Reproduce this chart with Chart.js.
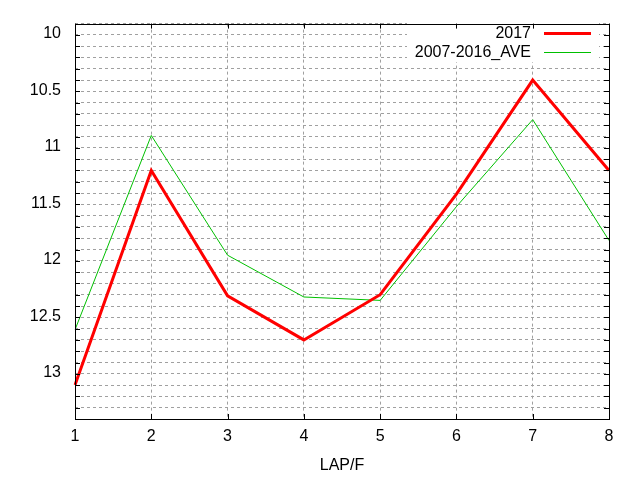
<!DOCTYPE html>
<html>
<head>
<meta charset="utf-8">
<script src="https://cdn.jsdelivr.net/npm/chart.js@4"></script>
<style>
html,body{margin:0;padding:0;background:#fff;}
#wrap{width:640px;height:480px;}
</style>
</head>
<body>
<div id="wrap"><canvas id="c" width="640" height="480"></canvas></div>
<script>
const categories = ['1','2','3','4','5','6','7','8'];
const series2017 = [13.1, 11.2, 12.31, 12.7, 12.3, 11.41, 10.4, 11.2];
const seriesAve = [12.61, 10.89, 11.95, 12.32, 12.35, 11.52, 10.75, 11.82];
const seriesLabels = ['2017', '2007-2016_AVE'];
const yMin = 9.9, yMax = 13.4, yStep = 0.1;
const xTitle = 'LAP/F';

const FONT = 'Liberation Sans, Arial, sans-serif';
const FS = 16;

const framePlugin = {
  id: 'frame',
  beforeDatasetsDraw(chart) {
    const ctx = chart.ctx;
    ctx.save();
    ctx.fillStyle = '#fff';
    ctx.fillRect(407, 21, 192, 41);
    ctx.restore();
  },
  afterDraw(chart) {
    const ctx = chart.ctx;
    const a = chart.chartArea;
    const ys = chart.scales.y, xs = chart.scales.x;
    ctx.save();
    ctx.strokeStyle = '#000';
    ctx.lineWidth = 1;
    ctx.setLineDash([]);
    ctx.beginPath();
    ys.ticks.forEach(t => {
      const y = Math.round(ys.getPixelForValue(t.value)) + 0.5;
      ctx.moveTo(a.left, y); ctx.lineTo(a.left + 5, y);
      ctx.moveTo(a.right, y); ctx.lineTo(a.right - 5, y);
    });
    xs.ticks.forEach((t, i) => {
      const x = Math.round(xs.getPixelForTick(i)) + 0.5;
      ctx.moveTo(x, a.bottom); ctx.lineTo(x, a.bottom - 5);
      ctx.moveTo(x, a.top); ctx.lineTo(x, a.top + 5);
    });
    ctx.stroke();
    ctx.strokeRect(Math.round(a.left) + 0.5, Math.round(a.top) + 0.5,
                   Math.round(a.right - a.left), Math.round(a.bottom - a.top));
    // legend
    ctx.font = FS + 'px ' + FONT;
    ctx.fillStyle = '#000';
    ctx.textAlign = 'right';
    ctx.textBaseline = 'middle';
    const rows = [33, 52];
    chart.data.datasets.forEach((ds, i) => {
      const y = rows[i];
      ctx.fillText(ds.label, 531, y + 1);
      ctx.strokeStyle = ds.borderColor;
      ctx.lineWidth = ds.borderWidth;
      ctx.beginPath();
      ctx.moveTo(544, y + 0.5); ctx.lineTo(591, y + 0.5);
      ctx.stroke();
    });
    ctx.restore();
  }
};

new Chart(document.getElementById('c'), {
  type: 'line',
  data: {
    labels: categories,
    datasets: [
      { label: seriesLabels[0], data: series2017, borderColor: '#ff0000', borderWidth: 3,
        pointRadius: 0, tension: 0, fill: false },
      { label: seriesLabels[1], data: seriesAve, borderColor: '#00c000', borderWidth: 1,
        pointRadius: 0, tension: 0, fill: false }
    ]
  },
  options: {
    responsive: false,
    animation: false,
    devicePixelRatio: 1,
    layout: { padding: { left: 0, top: 20, right: 31, bottom: 0 } },
    plugins: { legend: { display: false }, tooltip: { enabled: false } },
    scales: {
      x: {
        type: 'category',
        offset: false,
        afterFit(s) { s.height = 61; },
        grid: { color: '#a0a0a0', drawTicks: false, lineWidth: 1 },
        border: { display: false, dash: [3, 3] },
        ticks: { color: '#000', font: { family: FONT, size: FS }, padding: 8, maxRotation: 0 },
        title: { display: true, text: xTitle, color: '#000', font: { family: FONT, size: FS },
                 padding: { top: 0, bottom: 5 } }
      },
      y: {
        type: 'linear',
        reverse: true,
        min: yMin, max: yMax,
        afterFit(s) { s.width = 75; },
        grid: { color: '#a0a0a0', drawTicks: false, lineWidth: 1 },
        border: { display: false, dash: [3, 3] },
        ticks: {
          stepSize: yStep,
          autoSkip: false,
          color: '#000',
          font: { family: FONT, size: FS },
          padding: 14,
          labelOffset: -1,
          callback(v) {
            const r = Math.round(v * 10) / 10;
            if (Math.abs(r * 2 - Math.round(r * 2)) < 1e-6 && r >= 10) return String(r);
            return '';
          }
        }
      }
    }
  },
  plugins: [framePlugin]
});
</script>
</body>
</html>
